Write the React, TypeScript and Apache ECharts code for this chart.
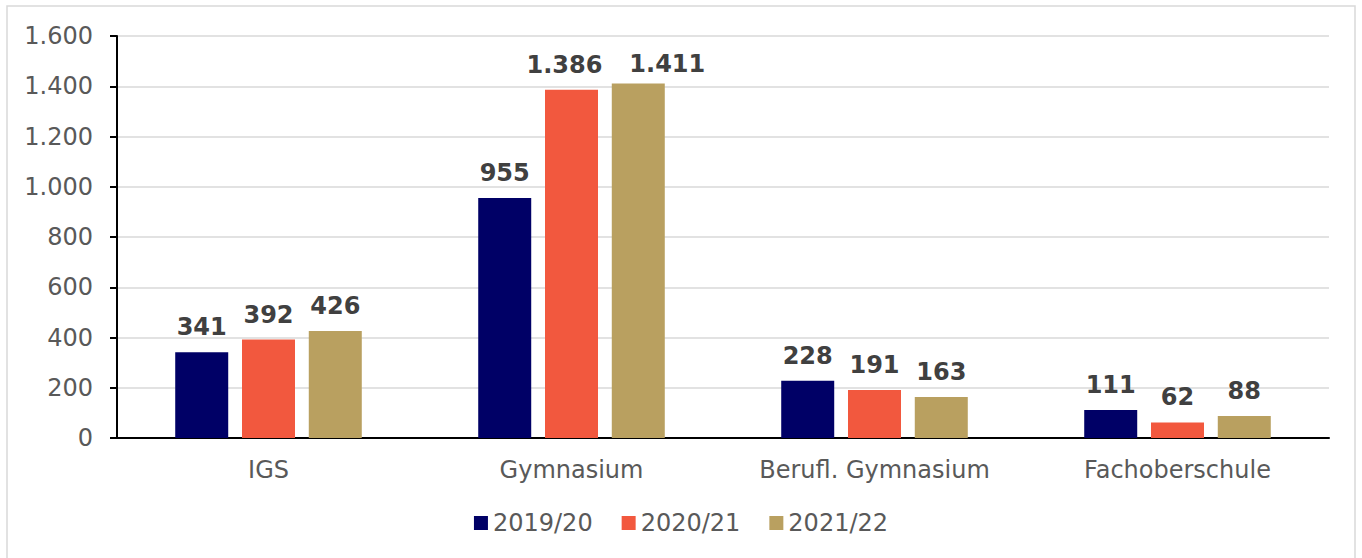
import React, { useEffect, useRef } from "react";
import * as echarts from "echarts";

const categories = ["IGS", "Gymnasium", "Berufl. Gymnasium", "Fachoberschule"];
const seriesNames = ["2019/20", "2020/21", "2021/22"];
const values2019 = [341, 955, 228, 111];
const values2020 = [392, 1386, 191, 62];
const values2021 = [426, 1411, 163, 88];
const colors = ["#000066", "#F2583E", "#B9A060"];

// manual label nudges (series index -> category index -> [dx, dy]) to avoid overlaps
const labelNudges: Record<string, [number, number]> = {
  "1-1": [-7, 0],
  "2-1": [29, 6],
};

const fmt = (v: number) => String(Math.round(v)).replace(/\B(?=(\d{3})+(?!\d))/g, ".");

export default function App() {
  const ref = useRef<HTMLDivElement>(null);
  useEffect(() => {
    if (!ref.current) return;
    const chart = echarts.init(ref.current, null, { renderer: "svg" });
    const font = "DejaVu Sans, Verdana, sans-serif";
    const allValues = [values2019, values2020, values2021];
    chart.setOption({
      animation: false,
      graphic: [
        {
          type: "rect",
          shape: { x: 7, y: 6, width: 1348, height: 600 },
          style: { fill: "none", stroke: "#D9D9D9", lineWidth: 1.5 },
          silent: true,
        },
      ],
      grid: { left: 117, right: 33, top: 36, bottom: 120, containLabel: false },
      legend: {
        bottom: 18,
        left: "center",
        itemWidth: 14,
        itemHeight: 14,
        itemGap: 29,
        icon: "rect",
        textStyle: { fontFamily: font, fontSize: 24, color: "#595959" },
        data: seriesNames,
      },
      xAxis: {
        type: "category",
        data: categories,
        axisLine: { show: true, lineStyle: { color: "#000", width: 2 } },
        axisTick: { show: false },
        axisLabel: { fontFamily: font, fontSize: 24, color: "#595959", margin: 20 },
      },
      yAxis: {
        type: "value",
        min: 0,
        max: 1600,
        interval: 200,
        axisLine: { show: true, lineStyle: { color: "#000", width: 2 } },
        axisTick: { show: true, length: 7, lineStyle: { color: "#000", width: 2 } },
        splitLine: { lineStyle: { color: "#D9D9D9", width: 1.5 } },
        axisLabel: {
          fontFamily: font,
          fontSize: 24,
          color: "#595959",
          margin: 24,
          formatter: (v: number) => fmt(v),
        },
      },
      series: seriesNames.map((name, i) => ({
        name,
        type: "bar",
        data: allValues[i].map((v, j) => {
          const nudge = labelNudges[`${i}-${j}`];
          return nudge ? { value: v, label: { offset: nudge } } : v;
        }),
        barWidth: 53,
        barGap: "26%",
        itemStyle: { color: colors[i] },
        label: {
          show: true,
          position: "top",
          distance: 13,
          fontFamily: font,
          fontSize: 24,
          fontWeight: "bold",
          color: "#404040",
          formatter: (p: any) => fmt(p.value),
        },
      })),
    });
    return () => chart.dispose();
  }, []);
  return (
    <div
      ref={ref}
      style={{ position: "absolute", left: 0, top: 0, width: 1362, height: 558, background: "#fff" }}
    />
  );
}
